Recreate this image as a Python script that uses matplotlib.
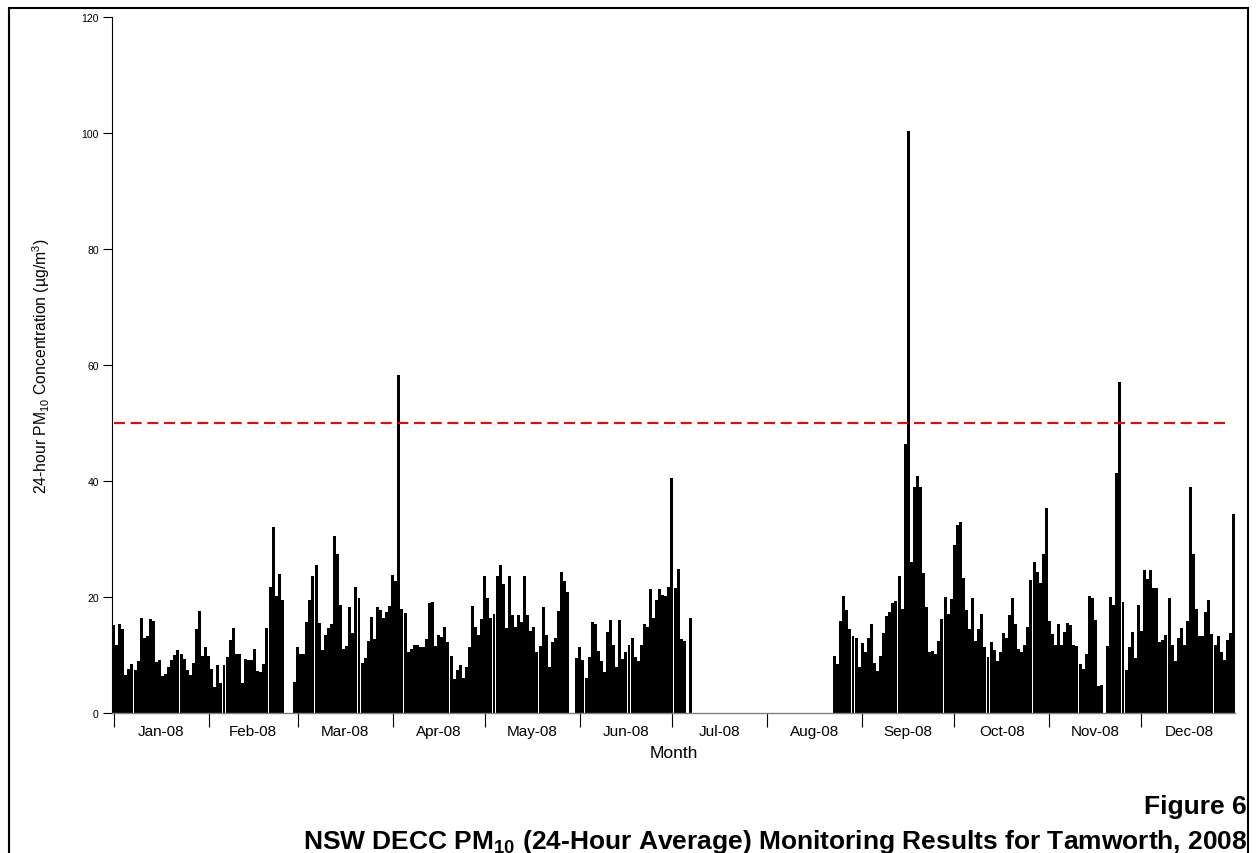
import numpy as np
import matplotlib
matplotlib.use("Agg")
import matplotlib.pyplot as plt
from matplotlib.patches import Rectangle

plt.rcParams["font.family"] = ["Liberation Sans", "DejaVu Sans"]
plt.rcParams["mathtext.fontset"] = "custom"
plt.rcParams["mathtext.rm"] = "Liberation Sans"
plt.rcParams["mathtext.bf"] = "Liberation Sans:bold"
plt.rcParams["mathtext.it"] = "Liberation Sans:italic"

nan = np.nan

month_labels = ["Jan-08", "Feb-08", "Mar-08", "Apr-08", "May-08", "Jun-08",
                "Jul-08", "Aug-08", "Sep-08", "Oct-08", "Nov-08", "Dec-08"]
month_days = [31, 29, 31, 30, 31, 30, 31, 31, 30, 31, 30, 31]

jan = [15.2, 11.7, 15.4, 14.5, 6.6, 7.6, 8.4, 7.4, 9.0, 16.4, 12.9, 13.2, 16.2, 15.9, 8.8,
       9.1, 6.4, 6.7, 8.0, 9.1, 10.0, 10.9, 10.1, 9.3, 7.4, 6.5, 8.6, 14.5, 17.6, 9.9, 11.4]
feb = [9.9, 7.6, 4.5, 8.2, 5.1, 8.3, 9.7, 12.6, 14.6, 10.2, 10.1, 5.1, 9.3, 9.1, 9.1,
       11.0, 7.2, 7.1, 8.4, 14.6, 21.8, 32.0, 20.1, 23.9, 19.4, nan, nan, nan, 5.3]
mar = [11.3, 10.2, 10.1, 15.7, 19.4, 23.7, 25.6, 15.6, 10.9, 13.4, 14.7, 15.3, 30.6, 27.4, 18.7,
       11.1, 11.6, 18.3, 13.8, 21.7, 19.9, 8.7, 9.4, 12.4, 16.6, 12.8, 18.3, 17.8, 16.4, 17.4, 18.5]
apr = [23.8, 22.8, 58.2, 18.0, 17.2, 10.6, 11.1, 11.7, 11.8, 11.3, 11.4, 12.8, 18.9, 19.2, 11.5,
       13.4, 13.1, 14.8, 12.3, 9.9, 5.9, 7.4, 8.2, 6.0, 7.9, 11.4, 18.4, 14.8, 13.4, 16.2]
may = [23.6, 19.9, 16.4, 17.0, 23.7, 25.6, 22.2, 14.7, 23.7, 16.9, 14.8, 16.9, 15.7, 23.7, 16.9,
       14.1, 14.9, 10.6, 11.6, 18.3, 13.4, 8.0, 12.3, 13.0, 17.6, 24.3, 22.8, 20.9, nan, nan, 9.5]
jun = [11.3, 9.1, 6.0, 9.7, 15.7, 15.4, 10.7, 9.0, 7.1, 13.9, 16.0, 11.8, 8.0, 16.0, 9.3,
       10.5, 11.7, 12.9, 9.7, 9.0, 11.7, 15.4, 14.9, 21.3, 16.4, 19.5, 21.3, 20.3, 20.1, 21.8]
jul = [40.6, 21.6, 24.9, 12.8, 12.5, nan, 16.3] + [nan] * 24
aug = [nan] * 22 + [9.9, 8.4, 15.9, 20.1, 17.8, 14.5, 13.2, 13.0, 8.0]
sep = [12.1, 10.6, 13.0, 15.4, 8.6, 7.2, 9.8, 13.8, 16.7, 17.4, 18.9, 19.3, 23.6, 18.0, 46.4,
       100.3, 26.0, 38.9, 40.9, 38.9, 24.1, 18.3, 10.6, 10.7, 10.2, 12.4, 16.2, 20.0, 17.1, 19.7]
oct_ = [28.9, 32.5, 33.0, 23.2, 17.8, 14.5, 19.9, 12.5, 14.5, 17.1, 11.4, 9.7, 12.2, 10.9, 8.9,
        10.5, 13.8, 12.9, 16.9, 19.9, 15.3, 11.1, 10.5, 11.8, 14.9, 23.0, 26.0, 24.3, 22.4, 27.4, 35.4]
nov = [15.9, 13.6, 11.7, 15.4, 11.8, 13.9, 15.6, 15.2, 11.8, 11.5, 8.4, 7.6, 10.1, 20.1, 19.9,
       16.0, 4.7, 4.8, nan, 11.5, 20.0, 18.6, 41.4, 57.1, 19.1, 7.4, 11.4, 14.0, 9.4, 18.7]
dec = [14.1, 24.6, 23.1, 24.7, 21.5, 21.5, 12.3, 12.6, 13.4, 19.8, 11.8, 9.0, 12.9, 14.6, 11.7,
       15.9, 38.9, 27.4, 17.9, 13.2, 13.3, 17.4, 19.5, 13.6, 11.7, 13.3, 10.5, 9.2, 12.6, 13.8, 34.3]

goal = 50
y_ticks = [0, 20, 40, 60, 80, 100, 120]

values = np.array(jan + feb + mar + apr + may + jun + jul + aug + sep + oct_ + nov + dec, dtype=float)
days = np.arange(len(values))
mask = ~np.isnan(values)

month_starts = np.concatenate([[0], np.cumsum(month_days)[:-1]])
month_mids = month_starts + np.array(month_days) / 2.0

W, H = 1256, 854
fig = plt.figure(figsize=(W / 100, H / 100), dpi=100)
ax = fig.add_axes([112 / W, 1 - 714 / H, (1235 - 112) / W, (714 - 18) / H])

ax.bar(days[mask], values[mask], width=0.97, color="black", edgecolor="none", zorder=2)
ax.hlines(goal, 0, 363, colors="red", linestyles=(0, (5.3, 2.7)), linewidth=1.5, zorder=3)

ax.set_xlim(-0.5, 365.5)
ax.set_ylim(0, 120)

for s in ["top", "right"]:
    ax.spines[s].set_visible(False)
ax.spines["left"].set_color("black")
ax.spines["left"].set_linewidth(0.8)
ax.spines["bottom"].set_color("#808080")
ax.spines["bottom"].set_linewidth(1.0)

ax.set_yticks(y_ticks)
ax.set_yticklabels([str(t) for t in y_ticks], fontsize=7.5)
ax.tick_params(axis="y", direction="out", length=6.5, width=0.8, pad=3)

ax.set_xticks(month_starts)
ax.set_xticklabels([])
ax.set_xticks(month_mids, minor=True)
ax.set_xticklabels(month_labels, minor=True, fontsize=11)
ax.tick_params(axis="x", which="major", direction="out", length=10, width=0.8, color="black")
ax.tick_params(axis="x", which="minor", length=0, pad=8)

ax.set_xlabel("Month", fontsize=12.5, labelpad=5)
ax.set_ylabel(r"24-hour PM$\mathrm{_{10}}$ Concentration (µg/m$\mathrm{^{3}}$)", fontsize=11.3, labelpad=21)

fig.text(1247 / W, 1 - 814 / H, "Figure 6", ha="right", va="baseline",
         fontsize=19, fontweight="bold")
fig.text(1247 / W, 1 - 849 / H,
         r"NSW DECC PM$\mathbf{_{10}}$ (24-Hour Average) Monitoring Results for Tamworth, 2008",
         ha="right", va="baseline", fontsize=19, fontweight="bold")

border = Rectangle((9 / W, -0.2), (1248 - 9) / W, 1.2 - 9 / H, transform=fig.transFigure,
                   fill=False, edgecolor="black", linewidth=1.5, clip_on=False)
fig.add_artist(border)

fig.savefig("out.png", dpi=100)
